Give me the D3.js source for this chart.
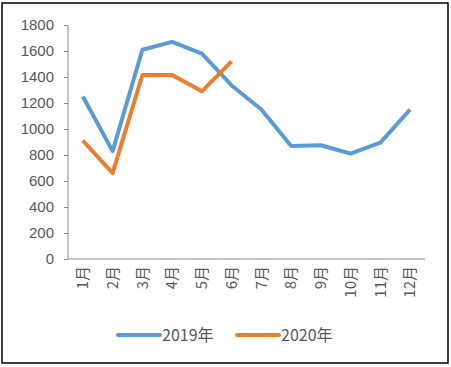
<!DOCTYPE html>
<html>
<head>
<meta charset="utf-8">
<script src="https://cdn.jsdelivr.net/npm/d3@7"></script>
<style>
  body { margin: 0; background: #fff; }
  text { font-family: "Noto Sans CJK SC", "DejaVu Sans", sans-serif; }
</style>
</head>
<body>
<script>
var months = ["1月","2月","3月","4月","5月","6月","7月","8月","9月","10月","11月","12月"];
var values2019 = [1250, 830, 1610, 1670, 1580, 1335, 1150, 870, 875, 810, 895, 1150];
var values2020 = [910, 660, 1415, 1415, 1290, 1520];
var yTicks = [0, 200, 400, 600, 800, 1000, 1200, 1400, 1600, 1800];
var seriesNames = ["2019年", "2020年"];
var colors = ["#5B9BD5", "#ED7D31"];

var width = 451;
var height = 367;
var svg = d3.select("body").append("svg")
            .attr("width", width)
            .attr("height", height);

// outer frame
svg.append("rect")
   .attr("x", 2).attr("y", 3)
   .attr("width", 446).attr("height", 360)
   .attr("fill", "#fff")
   .attr("stroke", "#000")
   .attr("stroke-width", 1.5);

var plotLeft = 68, plotRight = 425, plotTop = 25, plotBottom = 259;

var xScale = d3.scaleBand()
               .domain(months)
               .range([plotLeft, plotRight]);
var yScale = d3.scaleLinear()
               .domain([0, 1800])
               .range([plotBottom, plotTop]);

// y axis
var yAxis = svg.append("g")
   .attr("transform", "translate(" + plotLeft + ",0)")
   .call(d3.axisLeft(yScale).tickValues(yTicks).tickSize(4).tickPadding(10).tickFormat(d3.format("d")));
yAxis.select(".domain").attr("stroke", "#888").attr("d", "M0," + plotBottom + "V" + plotTop);
yAxis.selectAll(".tick line").attr("stroke", "#888");
yAxis.selectAll("text")
     .attr("fill", "#595959")
     .style("font-size", "15px")
     .style("font-family", "'Liberation Sans', 'DejaVu Sans', sans-serif");

// x axis
var xAxis = svg.append("g")
   .attr("transform", "translate(0," + plotBottom + ")")
   .call(d3.axisBottom(xScale).tickSize(0));
xAxis.select(".domain").attr("stroke", "#888").attr("d", "M" + plotLeft + ",0H" + plotRight);
xAxis.selectAll("text")
     .attr("fill", "#595959")
     .style("font-size", "15px")
     .attr("transform", "rotate(-90)")
     .attr("x", -7)
     .attr("y", 0)
     .attr("dy", "0.35em")
     .attr("text-anchor", "end");

var line = d3.line()
             .x(function(d, i) { return xScale(months[i]) + xScale.bandwidth() / 2; })
             .y(function(d) { return yScale(d); });

[values2019, values2020].forEach(function(vals, k) {
    svg.append("path")
       .datum(vals)
       .attr("d", line)
       .attr("fill", "none")
       .attr("stroke", colors[k])
       .attr("stroke-width", 4)
       .attr("stroke-linejoin", "round");
});

// legend
var legendX = [118, 237];
seriesNames.forEach(function(name, k) {
    var g = svg.append("g").attr("transform", "translate(" + legendX[k] + ",335)");
    g.append("line")
     .attr("x1", 0).attr("x2", 42)
     .attr("stroke", colors[k])
     .attr("stroke-width", 4)
     .attr("stroke-linecap", "round");
    g.append("text")
     .attr("x", 44)
     .attr("dy", "0.35em")
     .attr("fill", "#595959")
     .style("font-size", "16px")
     .text(name);
});
</script>
</body>
</html>
